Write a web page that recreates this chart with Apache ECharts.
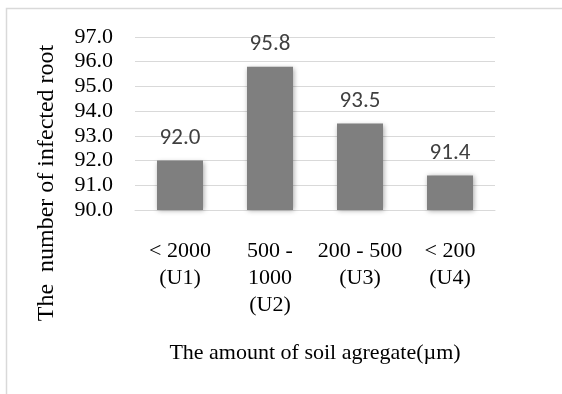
<!DOCTYPE html>
<html>
<head>
<meta charset="utf-8">
<script src="https://cdn.jsdelivr.net/npm/echarts@6/dist/echarts.min.js"></script>
<style>
  html, body { margin: 0; padding: 0; background: #fff; }
  #chart { width: 562px; height: 394px; }
</style>
</head>
<body>
<div id="chart"></div>
<script>
// Aggregate size classes and infected-root counts
const categories = ['< 2000\n(U1)', '500 -\n1000\n(U2)', '200 - 500\n(U3)', '< 200\n(U4)'];
const infectedRoots = [92.0, 95.8, 93.5, 91.4];
const yMin = 90, yMax = 97, yStep = 1;
const yTitle = 'The  number of infected root';
const xTitle = 'The amount of soil agregate(µm)';

const chart = echarts.init(document.getElementById('chart'));
const serif = '"Liberation Serif", "Times New Roman", serif';
const sans = 'Carlito, "Open Sans", "Liberation Sans", sans-serif';

chart.setOption({
  animation: false,
  backgroundColor: '#ffffff',
  graphic: [{
    type: 'rect',
    shape: { x: 6.5, y: 8.5, width: 570, height: 400 },
    style: { fill: 'none', stroke: '#d9d9d9', lineWidth: 1.5 },
    silent: true
  }, {
    // vertical axis title, centred beside the whole plot block
    type: 'text',
    x: 47,
    y: 183,
    rotation: Math.PI / 2,
    style: {
      text: yTitle,
      font: '24px "Liberation Serif", "Times New Roman", serif',
      fill: '#000',
      align: 'center',
      verticalAlign: 'middle'
    },
    silent: true
  }],
  grid: { left: 135, right: 67, top: 37, bottom: 184, containLabel: false, outerBoundsMode: 'none' },
  xAxis: {
    type: 'category',
    data: categories,
    axisLine: { show: true, lineStyle: { color: '#d9d9d9', width: 1 } },
    axisTick: { show: false },
    axisLabel: {
      interval: 0,
      margin: 28,
      fontFamily: serif,
      fontSize: 22,
      lineHeight: 27,
      color: '#000'
    },
    name: xTitle,
    nameLocation: 'middle',
    nameGap: 132,
    nameTextStyle: { fontFamily: serif, fontSize: 22, color: '#000' }
  },
  yAxis: {
    type: 'value',
    min: yMin,
    max: yMax,
    interval: yStep,
    axisLine: { show: false },
    axisTick: { show: false },
    splitLine: { lineStyle: { color: '#d9d9d9', width: 1 } },
    axisLabel: {
      margin: 22,
      fontFamily: serif,
      fontSize: 22,
      lineHeight: 20,
      showMinLabel: true,
      showMaxLabel: true,
      hideOverlap: false,
      color: '#000',
      formatter: v => v.toFixed(1)
    }
  },
  series: [{
    type: 'bar',
    data: infectedRoots,
    barWidth: 46,
    itemStyle: {
      color: '#7f7f7f',
      shadowColor: 'rgba(0,0,0,0.35)',
      shadowBlur: 5,
      shadowOffsetX: 1,
      shadowOffsetY: 1
    },
    label: {
      show: true,
      position: 'top',
      distance: 11,
      fontFamily: sans,
      fontSize: 23,
      color: '#404040',
      formatter: p => p.value.toFixed(1)
    }
  }]
});
</script>
</body>
</html>
